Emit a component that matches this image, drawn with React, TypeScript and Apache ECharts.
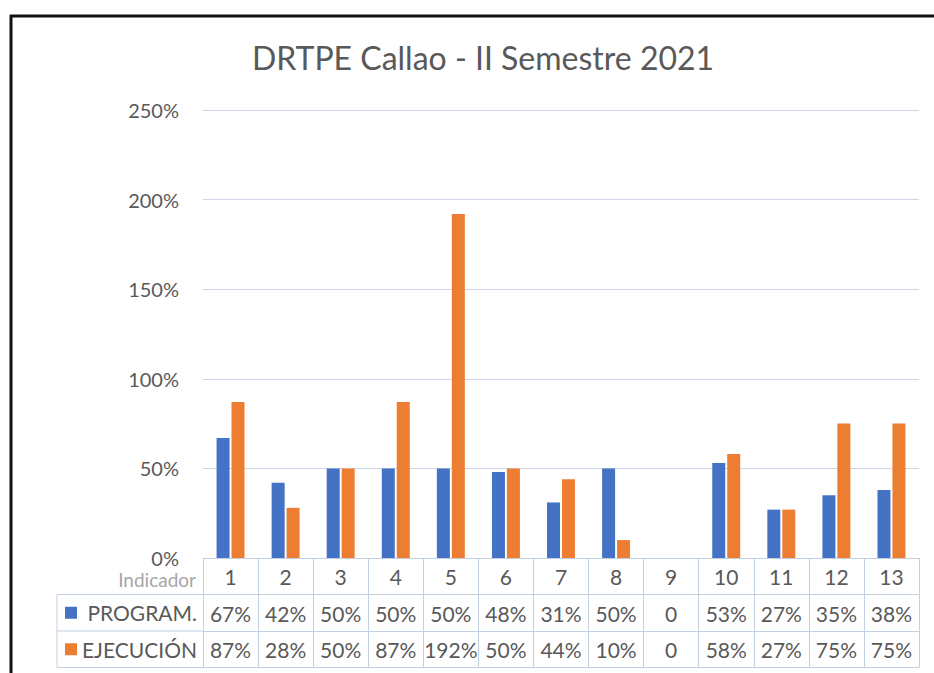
import React, { useEffect, useRef } from "react";
import * as echarts from "echarts";

const title = "DRTPE Callao - II Semestre 2021";
const categories = ["1", "2", "3", "4", "5", "6", "7", "8", "9", "10", "11", "12", "13"];
const programado = [67, 42, 50, 50, 50, 48, 31, 50, 0, 53, 27, 35, 38];
const ejecucion = [87, 28, 50, 87, 192, 50, 44, 10, 0, 58, 27, 75, 75];
const seriesNames = ["PROGRAM.", "EJECUCIÓN"];
const headerLabel = "Indicador";

const BLUE = "#4472C4";
const ORANGE = "#ED7D31";
const TEXT = "#595959";
const GRIDC = "#cdd6e6";
const TABLEC = "#c3cfe2";
const FONT = "Lato, 'Open Sans', sans-serif";

const fmt = (v: number) => (v === 0 ? "0" : `${v}%`);

export default function App() {
  const ref = useRef<HTMLDivElement>(null);
  useEffect(() => {
    if (!ref.current) return;
    const chart = echarts.init(ref.current, null, { renderer: "svg" });
    const rowH = 36.5;
    const tableAxis = (offset: number, labels: string[] | null, show = true) => ({
      type: "category",
      data: categories,
      gridIndex: 0,
      position: "bottom",
      offset,
      axisLine: { show: true, lineStyle: { color: TABLEC, width: 1 } },
      axisTick: { show, length: rowH, interval: 0, lineStyle: { color: TABLEC, width: 1 } },
      axisLabel: {
        show: show,
        interval: 0,
        margin: 8,
        fontSize: 21,
        lineHeight: 21,
        color: TEXT,
        fontFamily: FONT,
        formatter: labels ? (_v: string, i: number) => labels[i] : undefined,
      },
      splitLine: { show: false },
    });
    const legendY1 = 558 + rowH * 1.5;
    const legendY2 = 558 + rowH * 2.5;
    chart.setOption({
      animation: false,
      backgroundColor: "#ffffff",
      textStyle: { fontFamily: FONT },
      title: {
        text: title,
        left: 478,
        textAlign: "center",
        top: 36,
        textStyle: { fontSize: 32, fontWeight: "normal", color: TEXT, fontFamily: FONT },
      },
      grid: { left: 203, right: 15, top: 110, bottom: 115, containLabel: false },
      xAxis: [
        tableAxis(0, null),
        tableAxis(rowH, programado.map(fmt)),
        tableAxis(rowH * 2, ejecucion.map(fmt)),
        tableAxis(rowH * 3, null, false),
      ],
      yAxis: {
        type: "value",
        min: 0,
        max: 250,
        interval: 50,
        axisLine: { show: false },
        axisTick: { show: false },
        axisLabel: {
          formatter: "{value}%",
          fontSize: 20,
          lineHeight: 20,
          color: TEXT,
          margin: 24,
          fontFamily: FONT,
        },
        splitLine: { lineStyle: { color: GRIDC, width: 1 } },
      },
      series: [
        {
          name: seriesNames[0],
          type: "bar",
          data: programado,
          xAxisIndex: 0,
          barWidth: 13,
          barGap: "15%",
          itemStyle: { color: BLUE },
        },
        {
          name: seriesNames[1],
          type: "bar",
          data: ejecucion,
          xAxisIndex: 0,
          barWidth: 13,
          barGap: "15%",
          itemStyle: { color: ORANGE },
        },
      ],
      graphic: [
        { type: "line", shape: { x1: 10, y1: 16, x2: 934, y2: 16 }, style: { stroke: "#111", lineWidth: 3 } },
        { type: "line", shape: { x1: 11, y1: 15, x2: 11, y2: 673 }, style: { stroke: "#111", lineWidth: 3 } },
        { type: "line", shape: { x1: 57, y1: 558 + rowH, x2: 203, y2: 558 + rowH }, style: { stroke: TABLEC, lineWidth: 1 } },
        { type: "line", shape: { x1: 57, y1: 558 + rowH * 2, x2: 203, y2: 558 + rowH * 2 }, style: { stroke: TABLEC, lineWidth: 1 } },
        { type: "line", shape: { x1: 57, y1: 558 + rowH * 3, x2: 203, y2: 558 + rowH * 3 }, style: { stroke: TABLEC, lineWidth: 1 } },
        { type: "line", shape: { x1: 57, y1: 558 + rowH, x2: 57, y2: 558 + rowH * 3 }, style: { stroke: TABLEC, lineWidth: 1 } },
        {
          type: "text",
          x: 196,
          y: 570,
          style: { text: headerLabel, fontSize: 19, lineHeight: 19, fill: "#a6a6a6", align: "right", verticalAlign: "top", fontFamily: FONT },
        },
        { type: "rect", shape: { x: 65, y: legendY1 - 6, width: 12, height: 12 }, style: { fill: BLUE } },
        {
          type: "text",
          x: 197,
          y: legendY1,
          style: { text: seriesNames[0], fontSize: 21, fill: TEXT, align: "right", verticalAlign: "middle", fontFamily: FONT },
        },
        { type: "rect", shape: { x: 65, y: legendY2 - 6, width: 12, height: 12 }, style: { fill: ORANGE } },
        {
          type: "text",
          x: 197,
          y: legendY2,
          style: { text: seriesNames[1], fontSize: 21, fill: TEXT, align: "right", verticalAlign: "middle", fontFamily: FONT },
        },
      ],
    });
    return () => chart.dispose();
  }, []);
  return (
    <div
      ref={ref}
      style={{ position: "absolute", left: 0, top: 0, width: 934, height: 673 }}
    />
  );
}
